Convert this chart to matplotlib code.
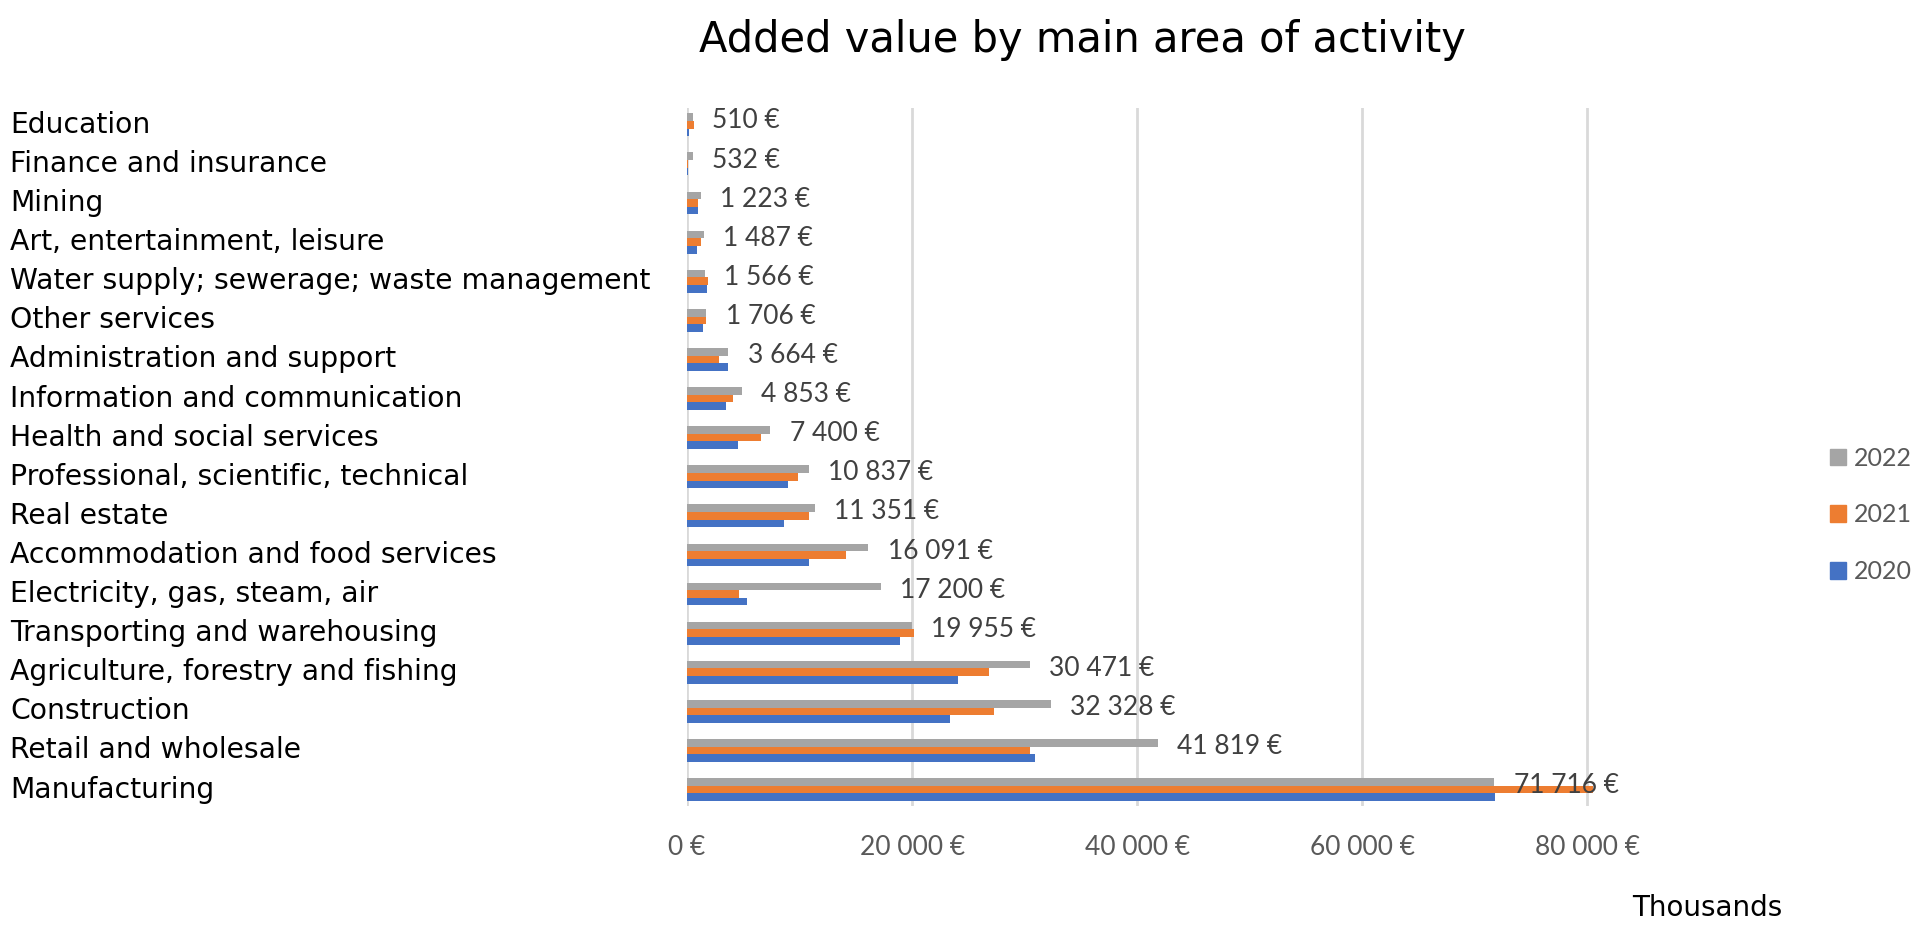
import matplotlib
matplotlib.use("Agg")
import matplotlib.pyplot as plt
import matplotlib.transforms as mtransforms
from matplotlib.patches import Patch
import numpy as np

categories = [
    "Manufacturing",
    "Retail and wholesale",
    "Construction",
    "Agriculture, forestry and fishing",
    "Transporting and warehousing",
    "Electricity, gas, steam, air",
    "Accommodation and food services",
    "Real estate",
    "Professional, scientific, technical",
    "Health and social services",
    "Information and communication",
    "Administration and support",
    "Other services",
    "Water supply; sewerage; waste management",
    "Art, entertainment, leisure",
    "Mining",
    "Finance and insurance",
    "Education",
]
values_2020 = [71800, 30900, 23350, 24050, 18900, 5370, 10800, 8650, 8960, 4570, 3460, 3600, 1400, 1750, 900, 1000, 120, 200]
values_2021 = [80500, 30500, 27280, 26800, 20150, 4630, 14100, 10840, 9870, 6600, 4100, 2830, 1650, 1900, 1200, 1000, 100, 600]
values_2022 = [71716, 41819, 32328, 30471, 19955, 17200, 16091, 11351, 10837, 7400, 4853, 3664, 1706, 1566, 1487, 1223, 532, 510]
xticks = [0, 20000, 40000, 60000, 80000]

C2020 = "#4472C4"
C2021 = "#ED7D31"
C2022 = "#A5A5A5"

def eur(v):
    s = f"{int(v):,}".replace(",", " ")
    return s + " €"

fig = plt.figure(figsize=(19.2, 9.36), dpi=100)
ax = fig.add_axes([687/1920, 1 - 806/936, (1610 - 687)/1920, (806 - 108)/936])

y = np.arange(len(categories))
h = 0.195
ax.barh(y + h, values_2022, height=h, color=C2022, zorder=3)
ax.barh(y, values_2021, height=h, color=C2021, zorder=3)
ax.barh(y - h, values_2020, height=h, color=C2020, zorder=3)

for yi, v in zip(y, values_2022):
    ax.annotate(eur(v), xy=(v, yi + 0.1), xytext=(14, 0), textcoords="offset points",
                va="center", ha="left", fontsize=19, color="#404040", family="Lato", zorder=4)

ax.set_xlim(0, 82000)
ax.set_ylim(-0.42, len(categories) - 1 + 0.43)
ax.set_xticks(xticks)
ax.set_xticklabels([eur(t) for t in xticks], fontsize=19, color="#595959", family="Lato")
ax.tick_params(axis="x", length=0, pad=21)
ax.set_yticks([])
for s in ax.spines.values():
    s.set_visible(False)
ax.grid(axis="x", color="#D9D9D9", linewidth=2, zorder=0)

trans = mtransforms.blended_transform_factory(fig.transFigure, ax.transData)
for yi, c in zip(y, categories):
    ax.text(10/1920, yi, c, transform=trans, ha="left", va="center", fontsize=20.3,
            color="black", family="DejaVu Sans")

fig.text(1082/1920, 1 - 40/936, "Added value by main area of activity", ha="center", va="center",
         fontsize=30, color="black", family="DejaVu Sans")
fig.text(1707/1920, 1 - 908/936, "Thousands", ha="center", va="center", fontsize=20,
         color="black", family="DejaVu Sans")

handles = [Patch(color=C2022), Patch(color=C2021), Patch(color=C2020)]
leg = fig.legend(handles, ["2022", "2021", "2020"], loc="center left",
                 bbox_to_anchor=(1830/1920, 1 - 515/936), frameon=False,
                 borderpad=0, borderaxespad=0,
                 handlelength=0.65, handleheight=0.65, handletextpad=0.3,
                 labelspacing=1.35, prop={"family": "Lato", "size": 18})
for t in leg.get_texts():
    t.set_color("#595959")

fig.savefig("out.png", dpi=100)
